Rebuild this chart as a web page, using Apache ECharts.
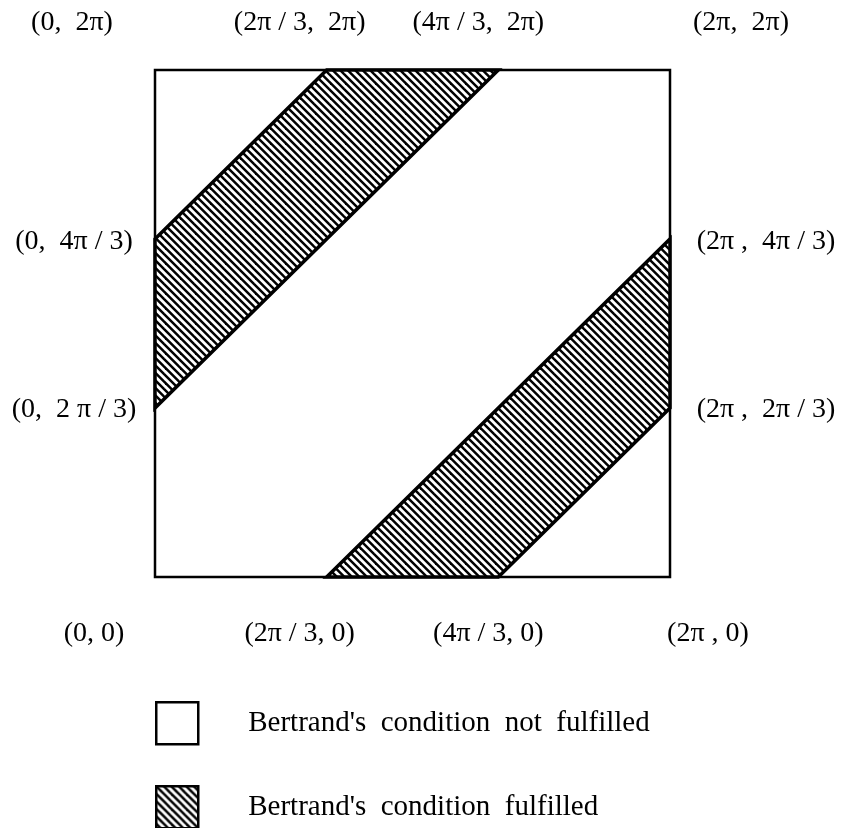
<!DOCTYPE html>
<html>
<head>
<meta charset="utf-8">
<script src="https://cdn.jsdelivr.net/npm/echarts@6/dist/echarts.min.js"></script>
<style>html,body{margin:0;padding:0;background:#fff;}#c{width:843px;height:828px;}</style>
</head>
<body>
<div id="c"></div>
<script>
// Coordinates in units of π
const squareCorners = [[0, 0], [2, 0], [2, 2], [0, 2]];
const upperBand = [[0, 2/3], [0, 4/3], [2/3, 2], [4/3, 2]];
const lowerBand = [[2/3, 0], [4/3, 0], [2, 2/3], [2, 4/3]];
const labelPoints = [[0, 2], [2/3, 2], [4/3, 2], [2, 2], [0, 4/3], [0, 2/3], [2, 4/3], [2, 2/3], [0, 0], [2/3, 0], [4/3, 0], [2, 0]];
const labelTexts = ['(0,  2π)', '(2π / 3,  2π)', '(4π / 3,  2π)', '(2π,  2π)', '(0,  4π / 3)', '(0,  2 π / 3)', '(2π ,  4π / 3)', '(2π ,  2π / 3)', '(0, 0)', '(2π / 3, 0)', '(4π / 3, 0)', '(2π , 0)'];
const legendNames = ["Bertrand's  condition  not  fulfilled", "Bertrand's  condition  fulfilled"];

// style only
const labelOffsets = [[-83, -47], [-27, -47], [-20, -47], [71, -47], [-81, 3], [-81, 2], [96, 3], [96, 2], [-61, 57], [-27, 57], [-10, 57], [38, 57]];

function makeHatch() {
  const s = 7.5;
  const cv = document.createElement('canvas');
  cv.width = 15; cv.height = 15;
  const ctx = cv.getContext('2d');
  ctx.fillStyle = '#fff';
  ctx.fillRect(0, 0, 15, 15);
  ctx.strokeStyle = '#000';
  ctx.lineWidth = 2.5;
  for (let k = -2; k <= 2; k++) {
    ctx.beginPath();
    ctx.moveTo(k * s - 1, -1);
    ctx.lineTo(k * s + 16, 16);
    ctx.stroke();
  }
  return cv;
}
const hatch = { image: makeHatch(), repeat: 'repeat' };

function polyRenderer(polys, fill, lw) {
  return function (params, api) {
    const pts = polys[params.dataIndex].map(p => api.coord(p));
    return {
      type: 'polygon',
      shape: { points: pts },
      style: { fill: fill, stroke: '#000', lineWidth: lw, lineJoin: 'miter' }
    };
  };
}

const font = 'Liberation Serif';
function legendFor(i, top, color) {
  return {
    orient: 'vertical', left: 155, top: top, itemWidth: 42, itemHeight: 42,
    padding: 0, selectedMode: false,
    textStyle: { fontFamily: font, fontSize: 29, color: '#000', padding: [0, 0, 0, 45] },
    data: [{ name: legendNames[i], icon: 'rect', itemStyle: { color: color, borderColor: '#000', borderWidth: 2.5 } }]
  };
}

const chart = echarts.init(document.getElementById('c'));
chart.setOption({
  animation: false,
  backgroundColor: '#fff',
  grid: { left: 155, right: 173, top: 70, bottom: 251 },
  xAxis: { type: 'value', min: 0, max: 2, show: false },
  yAxis: { type: 'value', min: 0, max: 2, show: false },
  legend: [legendFor(0, 701, '#fff'), legendFor(1, 785, hatch)],
  series: [
    {
      type: 'custom', name: legendNames[0], coordinateSystem: 'cartesian2d',
      itemStyle: { color: '#fff' },
      renderItem: polyRenderer([squareCorners], '#fff', 2.5),
      data: [[0, 0]]
    },
    {
      type: 'custom', name: legendNames[1], coordinateSystem: 'cartesian2d',
      itemStyle: { color: hatch },
      renderItem: polyRenderer([upperBand, lowerBand], hatch, 3.5),
      data: [[0, 1], [2, 1]]
    },
    {
      type: 'custom', coordinateSystem: 'cartesian2d', silent: true,
      data: labelPoints,
      renderItem: function (params, api) {
        const i = params.dataIndex;
        const c = api.coord([api.value(0), api.value(1)]);
        return {
          type: 'text',
          x: c[0] + labelOffsets[i][0], y: c[1] + labelOffsets[i][1],
          style: {
            text: labelTexts[i], fill: '#000', font: '28px "Liberation Serif"',
            align: 'center', verticalAlign: 'middle'
          }
        };
      }
    }
  ]
});
</script>
</body>
</html>
